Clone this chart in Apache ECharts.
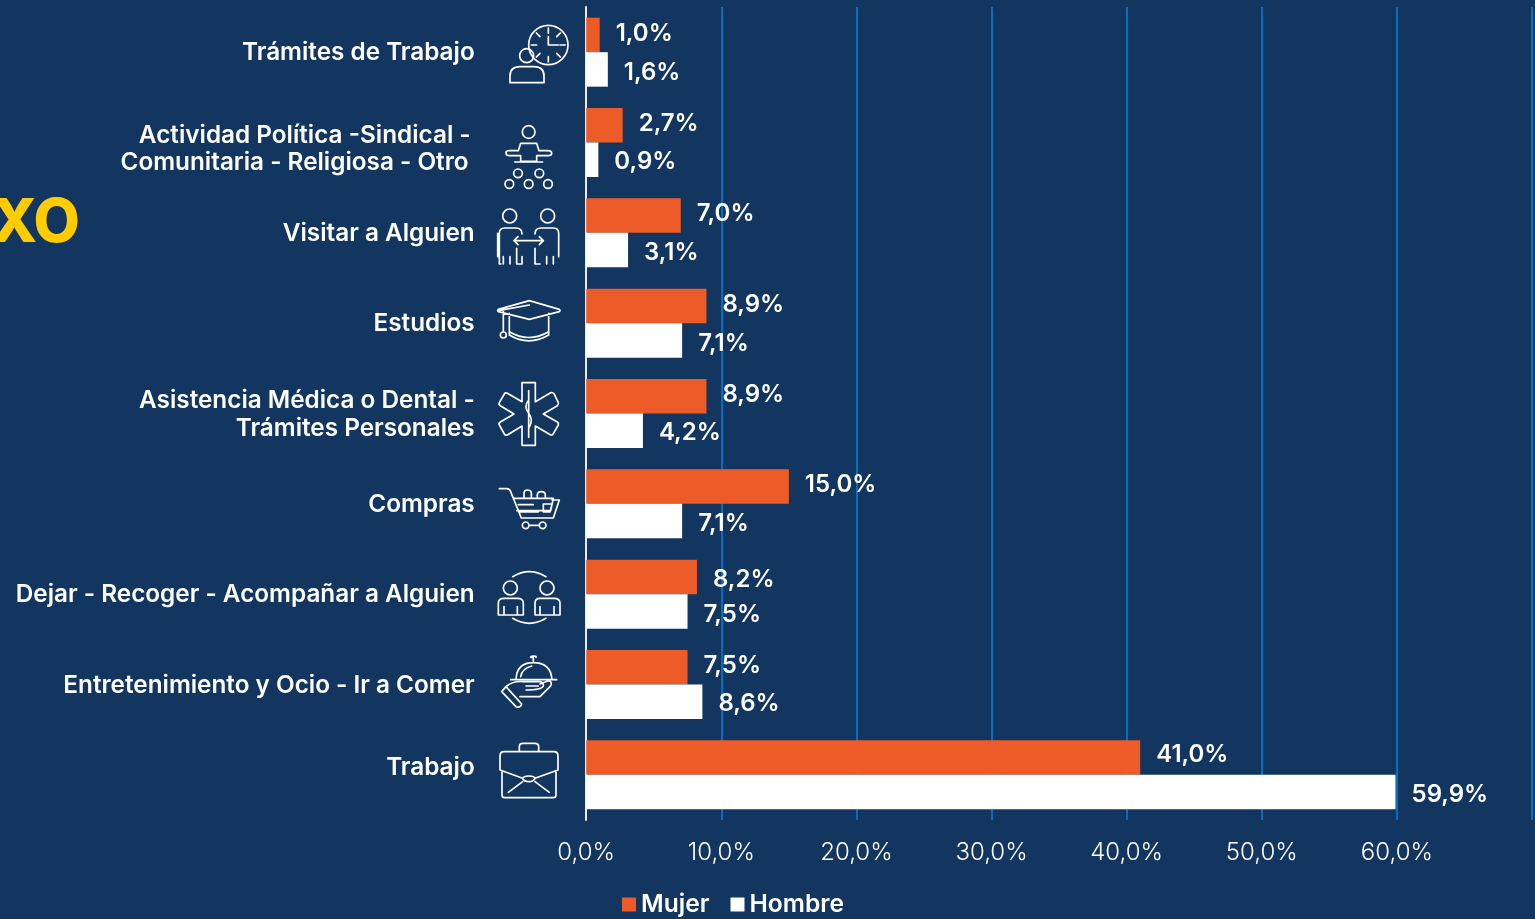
<!DOCTYPE html>
<html><head><meta charset="utf-8">
<style>html,body{margin:0;padding:0;background:#12365F;}#c{width:1535px;height:919px;}</style>
<script src="https://cdn.jsdelivr.net/npm/echarts@6/dist/echarts.min.js"></script>
</head><body><div id="c"></div>
<script>
const categories = ['Trámites de Trabajo','Actividad Política -Sindical -\u2009\nComunitaria - Religiosa - Otro ','Visitar a Alguien','Estudios','Asistencia Médica o Dental -\nTrámites Personales','Compras','Dejar - Recoger - Acompañar a Alguien','Entretenimiento y Ocio - Ir a Comer','Trabajo'];
const mujer = [1.0,2.7,7.0,8.9,8.9,15.0,8.2,7.5,41.0];
const hombre = [1.6,0.9,3.1,7.1,4.2,7.1,7.5,8.6,59.9];
const tickMax = 70;
const BG='#12365F', ORANGE='#EC5B28', WHITE='#FFFFFF', GRID='#0070C0';
const fmtPct = v => v.toFixed(1).replace('.',',')+'%';
const muNudge = [-1,-1,-2,-1,-1,-2,2.5,-1,-3];
const hoNudge = [3,2,3,3,2,3,3,2,3];
const labelShift = {1:'d7',8:'u7'};

function circ(x,y,r){return `M${x-r} ${y}A${r} ${r} 0 1 1 ${x+r} ${y}A${r} ${r} 0 1 1 ${x-r} ${y}Z`;}
const icons = [
 {oy:0,d:circ(175,135,59)+'M175 84V100M175 170V186M124 135H140M210 135H226M139 99L150 110M211 99L200 110M139 171L150 160M211 171L200 160M175 110V135H205'+circ(110,167,21)+'M60 248V228Q60 200 90 200H132Q162 200 162 228V248Z'},
 {oy:0,d:circ(116,396,19)+'M48 458Q48 452 58 452H85L92 430H140L147 452H174Q185 452 185 460Q185 467 174 467H140V484H92V467H58Q48 467 48 458ZM74 486H158'+circ(84,520,13)+circ(148,520,13)+circ(58,552,13)+circ(116,552,13)+circ(174,552,13)},
 {oy:0,d:circ(59,648,21)+circ(173,648,21)+'M33 792H28V700Q28 684 44 684H78Q96 684 96 702M96 770V792H80V745M60 770V792M40 770V792M23 770V700M135 702Q135 684 153 684H190Q206 684 206 700V770M135 745V792H150M170 770V792M190 770V792M72 722H160M84 710L72 722L84 734M148 710L160 722L148 734'},
 {oy:280,d:'M25 88L118 62L208 88Q212 92 208 95L118 118L25 95Q21 92 25 88ZM40 95V155M58 100V165Q116 200 176 165V100M58 155Q116 190 176 155M25 92L118 75'+circ(40,165,9)},
 {oy:280,d:'M96 308H136V365L182 338Q188 336 192 341L205 368Q207 373 202 377L160 402L202 426Q207 430 205 435L190 461Q187 467 181 464L136 438V496H96V438L52 465Q46 467 43 462L28 435Q25 430 31 426L72 402L31 377Q25 373 28 368L43 342Q46 337 52 340L96 365ZM116 332V472M116 360Q100 380 116 400Q132 420 116 445'},
 {oy:280,d:'M28 626H50Q60 626 64 640L94 714H190L208 660H186M72 655H190L182 692H80M85 674H130M88 696H145M102 655V640Q102 630 112 630Q124 630 124 640V655M142 655V645Q142 635 154 635Q166 635 166 645V655M160 672H186L180 696H160Z'+circ(107,736,10)+circ(158,736,10)+'M118 736H146'},
 {oy:550,d:'M68 80Q118 50 168 80M68 205Q118 235 168 205'+circ(61,114,21)+circ(171,114,21)+'M25 195V160Q25 145 42 145H82Q100 145 100 160V195ZM135 195V160Q135 145 150 145H192Q210 145 210 160V195ZM42 170V195M82 170V195M150 170V195M192 170V195'},
 {oy:550,d:'M62 389H200M78 389Q80 338 130 338Q182 338 186 389M130 338V322H122Q122 318 130 318Q140 318 138 322M92 380Q96 356 125 348M35 425L48 410L95 462Q92 475 78 470ZM50 408Q70 392 100 395H150Q162 398 160 408Q155 420 108 420M108 408H145M90 440H150L180 410Q190 395 175 392L150 402'},
 {oy:550,d:'M30 660V618Q30 605 42 605H192Q204 605 204 618V660L135 685Q130 695 118 695Q102 695 98 685ZM88 605V590Q88 580 98 580H135Q146 580 146 590V605M36 665V735Q36 743 44 743H190Q198 743 198 735V665M98 685Q100 678 116 678Q134 678 135 685M98 695L55 727M135 695L178 727'}
];
icons.forEach((ic,i)=>echarts.graphic.registerShape('icon'+i,echarts.graphic.extendPath(ic.d,{})));

const chart = echarts.init(document.getElementById('c'));
const labelFont = {fontFamily:'Inter',fontWeight:600,fontSize:24.3,color:WHITE};
const baseRich = {
  d7:{...labelFont,lineHeight:27,padding:[14,0,0,0]},
  u7:{...labelFont,lineHeight:28,padding:[0,0,14,0]},
  n:{...labelFont,lineHeight:28,padding:[2,0,0,0]}
};
function seriesFor(name,vals,color,nudge){
  return {name,type:'bar',data:vals,barWidth:34.5,barGap:'0%',itemStyle:{color},
    labelLayout:p=>({dy:nudge[p.dataIndex]}),
    label:{show:true,position:'right',distance:16,formatter:p=>fmtPct(p.value),fontFamily:'Inter',fontWeight:600,fontSize:24,color:WHITE}};
}
chart.setOption({
  backgroundColor:BG,animation:false,
  textStyle:{fontFamily:'Inter'},
  grid:{left:586.2,top:7,width:945.8,height:813,containLabel:false},
  legend:{data:['Mujer','Hombre'],left:622,top:892,padding:0,itemWidth:14,itemHeight:14,itemGap:21,icon:'rect',
    textStyle:{fontFamily:'Inter',fontWeight:600,fontSize:24.6,color:WHITE}},
  xAxis:{type:'value',min:0,max:tickMax,interval:10,
    axisLine:{show:false},axisTick:{show:false},
    splitLine:{show:true,lineStyle:{color:GRID,width:2}},
    axisLabel:{margin:21,fontFamily:'Inter',fontWeight:300,fontSize:24,color:WHITE,
      formatter:v=>v===tickMax?'':fmtPct(v)}},
  yAxis:{type:'category',inverse:true,data:categories,
    axisLine:{show:true,lineStyle:{color:'#E8EDF3',width:2}},axisTick:{show:false},
    axisLabel:{margin:111.5,align:'right',lineHeight:28,
      formatter:(v,i)=>{const k=labelShift[i]||'n';return v.split('\n').map(t=>`{${k}|${t}}`).join('\n');},
      rich:baseRich,...labelFont}},
  series:[seriesFor('Mujer',mujer,ORANGE,muNudge),seriesFor('Hombre',hombre,WHITE,hoNudge)],
  graphic:[
    {type:'text',x:80,y:224,style:{text:'XO',fill:'#FFCC00',fontFamily:'Inter',fontWeight:800,fontSize:60,textAlign:'right',textVerticalAlign:'middle'}},
    ...icons.map((ic,i)=>({type:'icon'+i,x:490,y:ic.oy,scaleX:1/3,scaleY:1/3,style:{fill:'none',stroke:WHITE,lineWidth:5,lineJoin:'round',lineCap:'round'}}))
  ]
});
</script></body></html>
